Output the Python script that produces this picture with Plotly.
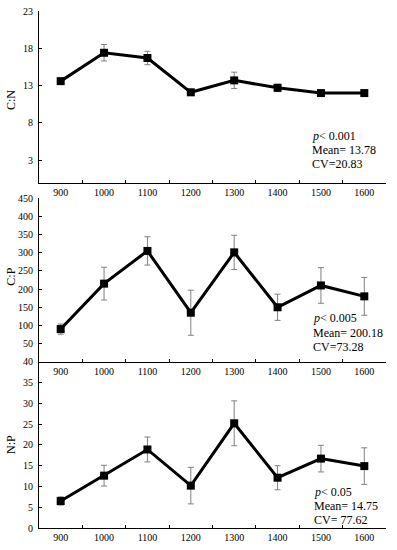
import plotly.graph_objects as go

categories = ["900", "1000", "1100", "1200", "1300", "1400", "1500", "1600"]

cn_values = [13.6, 17.4, 16.7, 12.1, 13.7, 12.7, 12.0, 12.0]
cn_errors = [0.3, 1.1, 0.9, 0.4, 1.1, 0.5, 0.2, 0.2]

cp_values = [90, 215, 305, 135, 301, 150, 210, 180]
cp_errors = [14, 45, 39, 62, 47, 36, 49, 52]

np_values = [6.5, 12.6, 18.9, 10.2, 25.2, 12.1, 16.7, 14.9]
np_errors = [1.0, 2.5, 3.0, 4.4, 5.4, 2.9, 3.2, 4.4]

cn_ticks = [3, 8, 13, 18, 23]
cp_ticks = [50, 100, 150, 200, 250, 300, 350, 400, 450]
np_ticks = [0, 5, 10, 15, 20, 25, 30, 35, 40]

panels = [
    ("C:N", cn_values, cn_errors, cn_ticks, [0, 23], ["<i>p</i>< 0.001", "Mean= 13.78", "CV=20.83"]),
    ("C:P", cp_values, cp_errors, cp_ticks, [0, 450], ["<i>p</i>< 0.005", "Mean= 200.18", "CV=73.28"]),
    ("N:P", np_values, np_errors, np_ticks, [0, 40], ["<i>p</i>< 0.05", "Mean= 14.75", "CV= 77.62"]),
]

W, H = 397, 550
left_px, right_px, top_px, bottom_px = 39, 386, 11, 528
ml, mt, mr, mb = left_px, top_px, W - right_px, H - bottom_px
ph = H - mt - mb
pw = W - ml - mr

def py(pix):
    return (bottom_px - pix) / ph

def px(pix):
    return (pix - left_px) / pw

domains = [[py(182.6), 1.0], [py(361.8), py(198.2)], [0.0, py(361.8)]]
ann_y = [[136, 150, 164], [318.3, 333.3, 347.3], [492.3, 505.7, 520.3]]
ann_x = [310, 310.7, 311.7]
title_y = [100, 276.7, 445]

FONT = "Liberation Serif"
fig = go.Figure()
annotations = []

for i, (name, vals, errs, ticks, rng, notes) in enumerate(panels):
    n = i + 1
    xa = "x" if n == 1 else f"x{n}"
    ya = "y" if n == 1 else f"y{n}"
    fig.add_trace(go.Scatter(
        x=categories, y=vals, xaxis=xa, yaxis=ya,
        mode="lines+markers",
        line=dict(color="black", width=3),
        marker=dict(symbol="square", size=8, color="black"),
        error_y=dict(type="data", array=errs, visible=True, color="#808080", thickness=1, width=3),
        showlegend=False, cliponaxis=False, hoverinfo="skip",
    ))
    xkey = "xaxis" if n == 1 else f"xaxis{n}"
    ykey = "yaxis" if n == 1 else f"yaxis{n}"
    fig.layout[xkey] = dict(
        type="category", range=[-0.5, 7.5], domain=[0, 1], anchor=ya,
        showline=True, linecolor="black", linewidth=1,
        ticks="inside", ticklen=3, tickcolor="black", tickson="boundaries",
        showgrid=False, zeroline=False, automargin=False,
        tickfont=dict(family=FONT, size=10, color="black"),
    )
    fig.layout[ykey] = dict(
        range=rng, domain=domains[i], anchor=xa,
        tickvals=ticks, showline=True, linecolor="black", linewidth=1,
        ticks="inside", ticklen=3, tickcolor="black",
        showgrid=False, zeroline=False, automargin=False,
        ticklabelstandoff=3,
        tickfont=dict(family=FONT, size=10, color="black"),
    )
    for j, t in enumerate(notes):
        annotations.append(dict(
            text=t, xref="paper", yref="paper", x=px(ann_x[i]), y=py(ann_y[i][j]),
            xanchor="left", yanchor="middle", showarrow=False,
            font=dict(family=FONT, size=12, color="black"),
        ))
    annotations.append(dict(
        text=name, xref="paper", yref="paper", x=px(11), y=py(title_y[i]),
        xanchor="center", yanchor="middle", textangle=-90, showarrow=False,
        font=dict(family=FONT, size=12, color="black"),
    ))

fig.update_layout(
    width=W, height=H,
    margin=dict(l=ml, r=mr, t=mt, b=mb),
    paper_bgcolor="white", plot_bgcolor="rgba(0,0,0,0)",
    annotations=annotations,
)

fig.write_html("out.html", config={"displayModeBar": False},
               post_script="document.body.style.margin='0px';")
